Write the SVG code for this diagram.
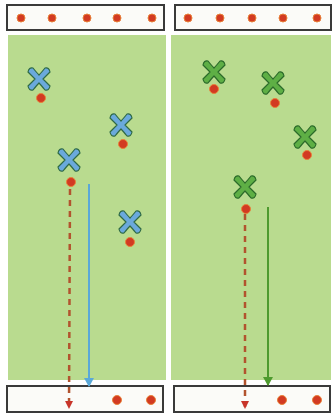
<svg xmlns="http://www.w3.org/2000/svg" width="333" height="414" viewBox="0 0 333 414">
<style>
.box{fill:#fbfbf8;stroke:#3a3a3a;stroke-width:2}
.field{fill:#b9db8f}
.dot{fill:#d23a22;stroke:#e8823a;stroke-width:1}
.xb{fill:#6aa9dc;stroke:#2f6a45;stroke-width:1.2;stroke-linejoin:round}
.xg{fill:#5eaf45;stroke:#2b6a2a;stroke-width:1.2;stroke-linejoin:round}
.dash{fill:none;stroke:#b2532e;stroke-width:2.5;stroke-dasharray:6,5}
.run-b{fill:none;stroke:#5aa8d8;stroke-width:2}
.run-g{fill:none;stroke:#4e9a2e;stroke-width:2}
</style>
<defs>
<path id="xs" d="M-11,-7 Q-10,-12 -6,-11 Q-2,-6 0,-4 Q2,-6 6,-11 Q10,-12 11,-7 Q6,-2 4,0 Q6,2 11,7 Q10,12 6,11 Q2,6 0,4 Q-2,6 -6,11 Q-10,12 -11,7 Q-6,2 -4,0 Q-6,-2 -11,-7 Z"/>
<marker id="ar" markerWidth="8" markerHeight="8" refX="7" refY="4" orient="auto" markerUnits="userSpaceOnUse" viewBox="0 0 8 8">
<path d="M0,0 L8,4 L0,8 Z" fill="#c8352a"/>
</marker>
<marker id="ab" markerWidth="9" markerHeight="10" refX="8" refY="5" orient="auto" markerUnits="userSpaceOnUse" viewBox="0 0 9 10">
<path d="M0,0 L9,5 L0,10 Z" fill="#5aa8d8"/>
</marker>
<marker id="ag" markerWidth="9" markerHeight="10" refX="8" refY="5" orient="auto" markerUnits="userSpaceOnUse" viewBox="0 0 9 10">
<path d="M0,0 L9,5 L0,10 Z" fill="#4e9a2e"/>
</marker>
</defs>
<rect width="333" height="414" fill="#ffffff"/>
<g id="field-left"><rect class="field" x="8" y="35" width="158" height="345"/></g>
<g id="field-right"><rect class="field" x="171" y="35" width="160" height="345"/></g>

<g id="goal-top-left">
<rect class="box" x="7" y="5" width="157" height="25"/>
<circle class="dot" cx="21" cy="18" r="4"/><circle class="dot" cx="52" cy="18" r="4"/><circle class="dot" cx="87" cy="18" r="4"/><circle class="dot" cx="117" cy="18" r="4"/><circle class="dot" cx="152" cy="18" r="4"/>
</g>
<g id="goal-top-right">
<rect class="box" x="175" y="5" width="156" height="25"/>
<circle class="dot" cx="188" cy="18" r="4"/><circle class="dot" cx="220" cy="18" r="4"/><circle class="dot" cx="252" cy="18" r="4"/><circle class="dot" cx="283" cy="18" r="4"/><circle class="dot" cx="317" cy="18" r="4"/>
</g>
<g id="goal-bottom-left">
<rect class="box" x="7" y="386" width="156" height="26"/>
<circle class="dot" cx="117" cy="400" r="4.5"/><circle class="dot" cx="151" cy="400" r="4.5"/>
</g>
<g id="goal-bottom-right">
<rect class="box" x="174" y="386" width="156" height="26"/>
<circle class="dot" cx="282" cy="400" r="4.5"/><circle class="dot" cx="317" cy="400" r="4.5"/>
</g>

<g id="connectors">
<path class="dash" d="M70,189 L69,408" marker-end="url(#ar)"/>
<path class="run-b" d="M89,184 L89,386" marker-end="url(#ab)"/>
<path class="dash" d="M245,214 L245,408" marker-end="url(#ar)"/>
<path class="run-g" d="M268,207 L268,385" marker-end="url(#ag)"/>
</g>

<g id="blue-1"><use href="#xs" class="xb" transform="translate(39,79)"/><circle class="dot" cx="41" cy="98" r="4.5"/></g>
<g id="blue-2"><use href="#xs" class="xb" transform="translate(121,125)"/><circle class="dot" cx="123" cy="144" r="4.5"/></g>
<g id="blue-3"><use href="#xs" class="xb" transform="translate(69,160)"/><circle class="dot" cx="71" cy="182" r="4.5"/></g>
<g id="blue-4"><use href="#xs" class="xb" transform="translate(130,222)"/><circle class="dot" cx="130" cy="242" r="4.5"/></g>

<g id="green-1"><use href="#xs" class="xg" transform="translate(214,72)"/><circle class="dot" cx="214" cy="89" r="4.5"/></g>
<g id="green-2"><use href="#xs" class="xg" transform="translate(273,83)"/><circle class="dot" cx="275" cy="103" r="4.5"/></g>
<g id="green-3"><use href="#xs" class="xg" transform="translate(305,137)"/><circle class="dot" cx="307" cy="155" r="4.5"/></g>
<g id="green-4"><use href="#xs" class="xg" transform="translate(245,187)"/><circle class="dot" cx="246" cy="209" r="4.5"/></g>
</svg>
